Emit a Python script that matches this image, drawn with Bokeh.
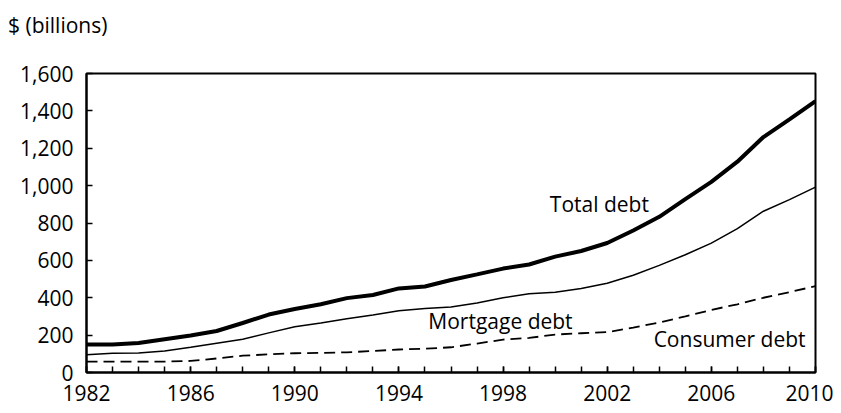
from bokeh.plotting import figure
from bokeh.models import FixedTicker, NumeralTickFormatter, Label, Range1d, Div
from bokeh.layouts import column
from bokeh.embed import file_html
from bokeh.resources import INLINE

years = list(range(1982, 2011))
total_debt = [150, 150, 158, 178, 198, 222, 265, 310, 340, 365, 398, 415, 450, 460,
              495, 525, 556, 578, 620, 650, 693, 760, 833, 928, 1020, 1128, 1260, 1355, 1452]
mortgage_debt = [95, 103, 105, 115, 135, 157, 178, 212, 245, 265, 288, 308, 330, 342,
                 350, 372, 400, 422, 430, 450, 478, 520, 573, 630, 692, 770, 863, 925, 992]
consumer_debt = [58, 58, 58, 58, 62, 75, 90, 97, 103, 105, 108, 115, 123, 127,
                 135, 155, 176, 185, 203, 210, 216, 240, 268, 300, 335, 365, 400, 430, 462]
x_tick_labels = [1982, 1986, 1990, 1994, 1998, 2002, 2006, 2010]
y_ticks = [0, 200, 400, 600, 800, 1000, 1200, 1400, 1600]

FONT = "Open Sans"
FS = "21px"

header = Div(text='<div style="position:relative;left:8px;top:11px;line-height:28px;'
                  'font-family:\'Open Sans\';font-size:21px;color:black;white-space:nowrap;">$ (billions)</div>',
             width=833, height=40, margin=(0, 0, 0, 0))

p = figure(width=833, height=365, output_backend="svg", toolbar_location=None,
           x_range=Range1d(1982, 2010), y_range=Range1d(0, 1600),
           min_border_left=86, min_border_right=18, min_border_top=33, min_border_bottom=33,
           margin=(0, 0, 0, 0))

p.line(years, total_debt, line_color="black", line_width=4)
p.line(years, mortgage_debt, line_color="black", line_width=1.5)
p.line(years, consumer_debt, line_color="black", line_width=1.8, line_dash="11 6")

p.xgrid.visible = False
p.ygrid.visible = False
p.outline_line_color = "black"
p.outline_line_width = 2
p.background_fill_color = "white"
p.border_fill_color = "white"

xa = p.xaxis[0]
xa.ticker = FixedTicker(ticks=x_tick_labels, minor_ticks=years)
xa.major_tick_in = 6
xa.major_tick_out = 0
xa.minor_tick_in = 6
xa.minor_tick_out = 0
xa.major_tick_line_color = "black"
xa.minor_tick_line_color = "black"
xa.major_tick_line_width = 1.5
xa.minor_tick_line_width = 1.5
xa.axis_line_width = 2
xa.axis_line_color = "black"
xa.major_label_text_font = FONT
xa.major_label_text_font_size = FS
xa.major_label_text_color = "black"
xa.major_label_standoff = 12

ya = p.yaxis[0]
ya.ticker = FixedTicker(ticks=y_ticks)
ya.formatter = NumeralTickFormatter(format="0,0")
ya.major_tick_in = 6
ya.major_tick_out = 0
ya.minor_tick_line_color = None
ya.major_tick_line_color = "black"
ya.major_tick_line_width = 1.5
ya.axis_line_width = 2
ya.axis_line_color = "black"
ya.major_label_text_font = FONT
ya.major_label_text_font_size = FS
ya.major_label_text_color = "black"
ya.major_label_standoff = 13

labels = [("Total debt", 2001.7, 899), ("Mortgage debt", 1997.9, 273), ("Consumer debt", 2006.7, 177)]
for txt, lx, ly in labels:
    p.add_layout(Label(x=lx, y=ly, text=txt, text_font=FONT, text_font_size=FS,
                       text_color="black", text_align="center", text_baseline="middle"))

layout = column(header, p, spacing=0, margin=(0, 0, 0, 0))
open("out.html", "w").write(file_html(layout, INLINE))
